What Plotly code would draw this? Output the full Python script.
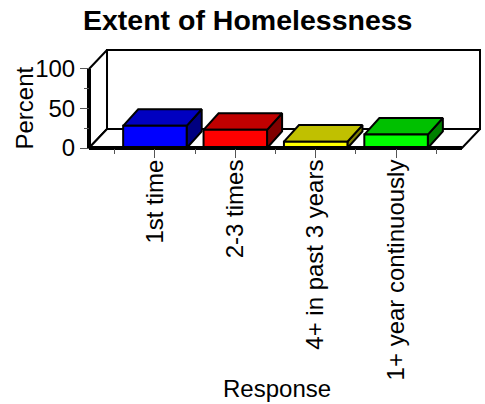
import plotly.graph_objects as go

# ---------------- data ----------------
categories = ["1st time", "2-3 times", "4+ in past 3 years", "1+ year continuously"]
values = [28, 23, 8, 17]
front_colors = ["#0000FF", "#FF0000", "#FFFF00", "#00FF00"]
top_colors = ["#0000C0", "#C00000", "#C0C000", "#00C000"]
side_colors = ["#000080", "#800000", "#808000", "#008000"]
y_ticks = [0, 50, 100]
y_minor_ticks = [25, 75]
x_minor_ticks = [-0.5, 0.5, 1.5, 2.5, 3.5]

# ---------------- geometry (data units) ----------------
X_LO, X_HI = -0.82, 3.82      # front edge of the floor
Y_MAX = 100
WALL_DX, WALL_DY = 0.224, 24  # depth of the box
BAR_W = 0.79
BAR_DX, BAR_DY = 0.187, 21    # depth of the bars

W, H = 485, 404
PX_X, PX_Y = 80.4, 0.79       # pixels per data unit
AX_PX, AX_PY = 89, 148        # pixel position of the front-left-bottom corner
PAD_L, PAD_R, PAD_B, PAD_T = 4, 2, 3, 3

x_range = [X_LO - PAD_L / PX_X, X_HI + WALL_DX + PAD_R / PX_X]
y_range = [-PAD_B / PX_Y, Y_MAX + WALL_DY + PAD_T / PX_Y]
plot_w = (x_range[1] - x_range[0]) * PX_X
plot_h = (y_range[1] - y_range[0]) * PX_Y
m_l = AX_PX - PAD_L
m_b = H - (AX_PY + PAD_B)
m_r = W - m_l - plot_w
m_t = H - m_b - plot_h

FONT = "Liberation Sans, Arial, sans-serif"
fig = go.Figure()


def poly(xs, ys, fill, lw=2):
    fig.add_trace(go.Scatter(
        x=xs + [xs[0]], y=ys + [ys[0]], mode="lines", fill="toself",
        fillcolor=fill, line=dict(color="black", width=lw),
        hoverinfo="skip", showlegend=False))


def line(xs, ys, lw):
    fig.add_trace(go.Scatter(
        x=xs, y=ys, mode="lines", line=dict(color="black", width=lw),
        hoverinfo="skip", showlegend=False))


bx0, bx1 = X_LO + WALL_DX, X_HI + WALL_DX
# back wall
poly([bx0, bx1, bx1, bx0], [WALL_DY, WALL_DY, Y_MAX + WALL_DY, Y_MAX + WALL_DY], "white")
# left wall
poly([X_LO, X_LO, bx0, bx0], [0, Y_MAX, Y_MAX + WALL_DY, WALL_DY], "white")
# floor
poly([X_LO, X_HI, bx1, bx0], [0, 0, WALL_DY, WALL_DY], "white")

# bars
for i, v in enumerate(values):
    x0, x1 = i - BAR_W / 2, i + BAR_W / 2
    # right side face
    poly([x1, x1 + BAR_DX, x1 + BAR_DX, x1], [0, BAR_DY, v + BAR_DY, v], side_colors[i])
    # top face
    poly([x0, x1, x1 + BAR_DX, x0 + BAR_DX], [v, v, v + BAR_DY, v + BAR_DY], top_colors[i])
    # front face
    poly([x0, x1, x1, x0], [0, 0, v, v], front_colors[i])

# thick front axis lines
line([X_LO, X_LO], [0, Y_MAX], 4)
line([X_LO, X_HI], [0, 0], 4)

fig.update_layout(
    width=W, height=H,
    margin=dict(l=m_l, r=m_r, t=m_t, b=m_b, pad=0),
    paper_bgcolor="white", plot_bgcolor="white",
    font=dict(family=FONT, size=24, color="black"),
    showlegend=False,
    hovermode=False,
    xaxis=dict(
        range=x_range, showgrid=False, zeroline=False, showline=False,
        anchor="free", position=PAD_B / plot_h,
        tickmode="array", tickvals=list(range(len(categories))), ticktext=categories,
        ticks="outside", ticklen=9, tickwidth=1, tickcolor="#555555",
        tickangle=-90, tickfont=dict(size=24, family=FONT),
        ticklabelstandoff=-8,
        minor=dict(tickmode="array", tickvals=x_minor_ticks, ticks="outside",
                   ticklen=5, tickwidth=1, tickcolor="#555555"),
    ),
    yaxis=dict(
        range=y_range, showgrid=False, zeroline=False, showline=False,
        anchor="free", position=PAD_L / plot_w,
        tickmode="array", tickvals=y_ticks, ticktext=[str(t) for t in y_ticks],
        ticks="outside", ticklen=9, tickwidth=1, tickcolor="#555555",
        tickfont=dict(size=24, family=FONT),
        minor=dict(tickmode="array", tickvals=y_minor_ticks, ticks="outside",
                   ticklen=5, tickwidth=1, tickcolor="#555555"),
    ),
)


def px_to_paper_x(px):
    return (px - m_l) / plot_w


def px_to_paper_y(py):
    return (H - m_b - py) / plot_h


fig.add_annotation(text="<b>Extent of Homelessness</b>", xref="paper", yref="paper",
                   x=px_to_paper_x(248), y=px_to_paper_y(20.5), xanchor="center", yanchor="middle",
                   showarrow=False, font=dict(size=28.5, family=FONT, color="black"))
fig.add_annotation(text="Percent", xref="paper", yref="paper",
                   x=px_to_paper_x(24.5), y=px_to_paper_y(108), xanchor="center", yanchor="middle",
                   textangle=-90, showarrow=False, font=dict(size=24, family=FONT, color="black"))
fig.add_annotation(text="Response", xref="paper", yref="paper",
                   x=px_to_paper_x(277), y=px_to_paper_y(388), xanchor="center", yanchor="middle",
                   showarrow=False, font=dict(size=24, family=FONT, color="black"))

fig.write_html("out.html", config={"displayModeBar": False, "staticPlot": True},
               post_script="document.body.style.margin='0';document.body.style.overflow='hidden';")
